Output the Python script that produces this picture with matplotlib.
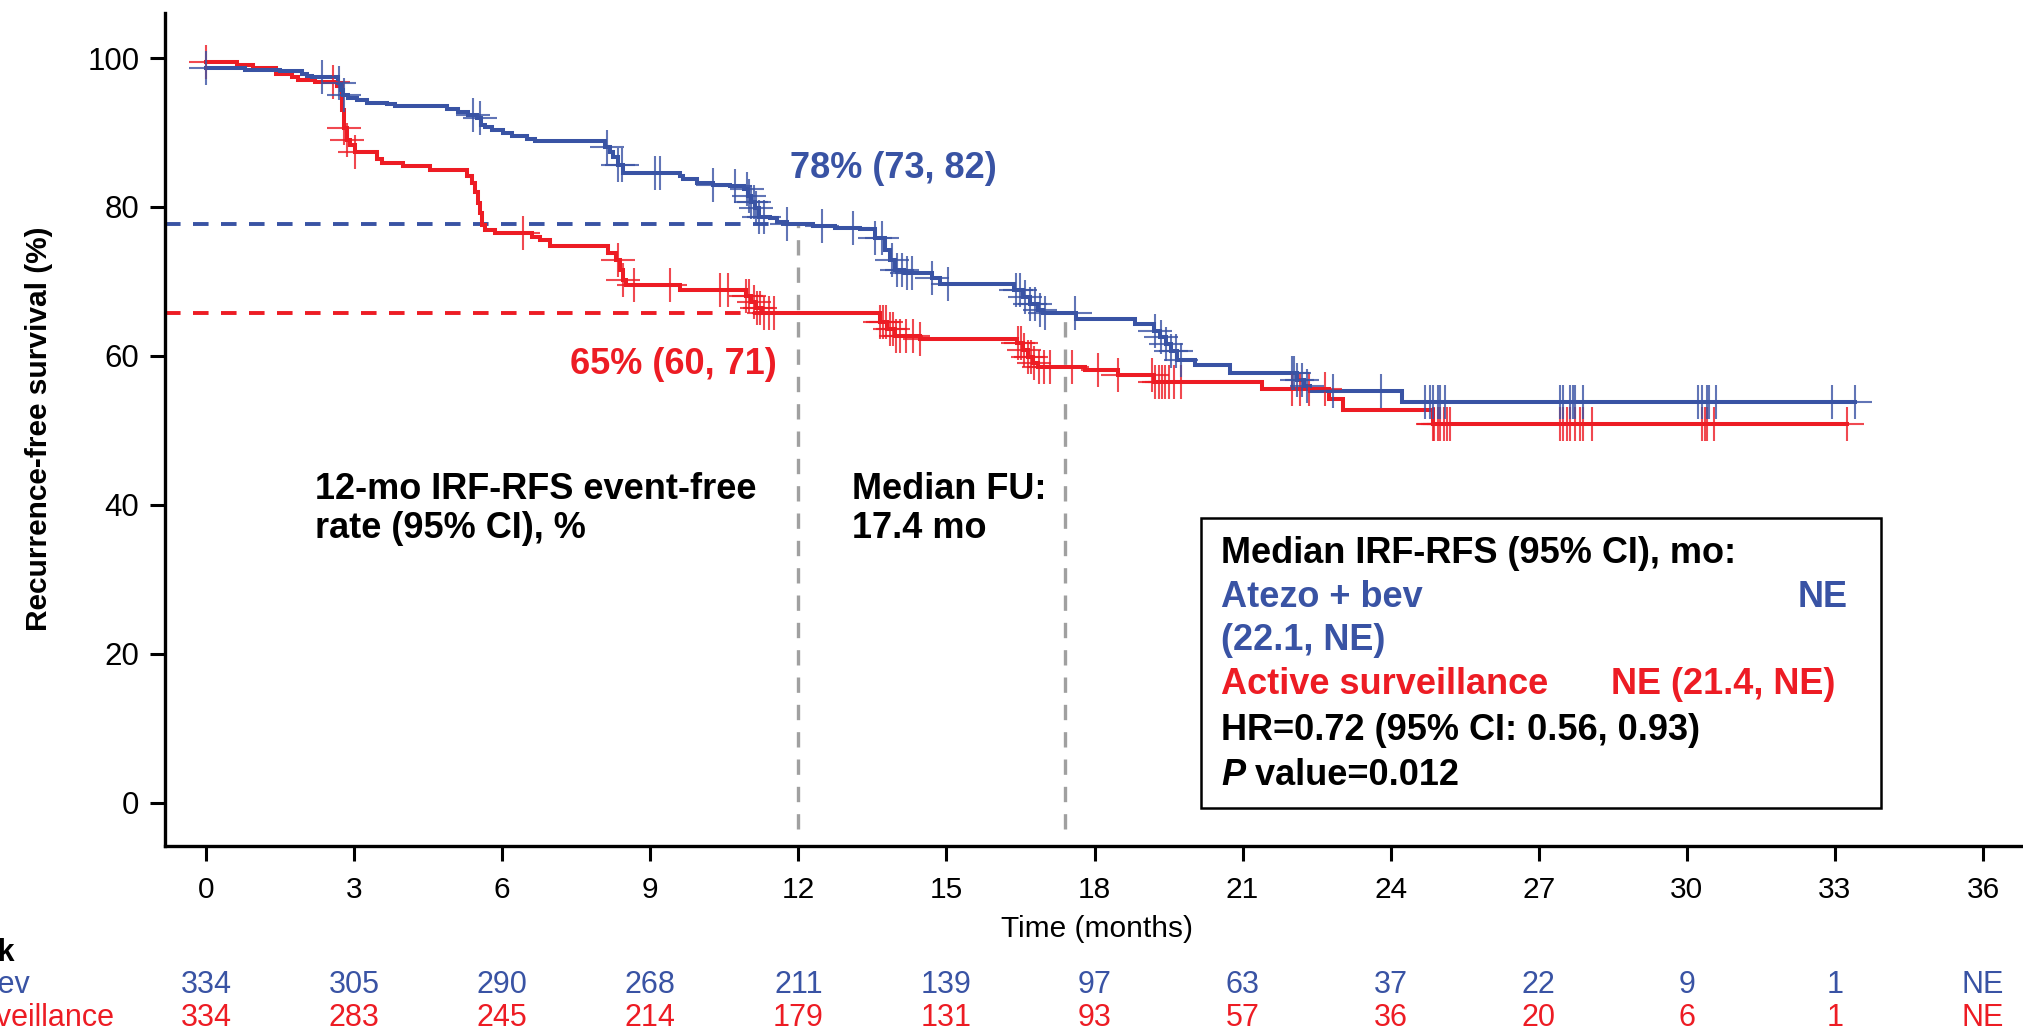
""" IRF-RFS Kaplan-Meier plot: atezo + bev vs active surveillance. """

import numpy as np
import matplotlib.pyplot as plt
from matplotlib.patches import Rectangle
from matplotlib.transforms import blended_transform_factory

plt.rcParams['font.family'] = ['Liberation Sans', 'DejaVu Sans']

BLUE = '#3953A4'
RED = '#ED1C24'
GRAY = '#A0A0A0'

""" Data (read off the curves) """

atezo_t = [0.00, 0.79, 1.50, 1.94, 2.04, 2.14, 2.68, 2.73, 2.78, 2.88, 3.05, 3.26,
           3.66, 3.83, 4.88, 5.11, 5.30, 5.48, 5.58, 5.65, 5.79, 6.02, 6.19, 6.50,
           6.67, 8.08, 8.18, 8.25, 8.35, 8.45, 9.60, 9.67, 9.94, 10.27, 10.62, 10.90,
           10.97, 11.05, 11.12, 11.20, 11.43, 11.56, 11.76, 12.30, 12.74, 13.25, 13.55,
           13.75, 13.85, 13.95, 14.13, 14.70, 14.87, 16.36, 16.55, 16.70, 16.85, 16.96,
           17.63, 18.82, 19.20, 19.33, 19.45, 19.55, 19.67, 20.04, 20.75, 22.10, 22.25,
           22.37, 24.22]
atezo_s = [98.7, 98.4, 98.2, 97.9, 97.6, 97.4, 96.6, 95.7, 95.0, 94.6, 94.3, 94.0,
           93.8, 93.5, 93.2, 92.8, 92.4, 91.9, 91.0, 90.7, 90.4, 90.0, 89.5, 89.1,
           88.8, 88.1, 87.4, 86.7, 85.6, 84.6, 84.1, 83.7, 83.2, 83.0, 82.8, 82.4,
           81.5, 80.6, 79.8, 78.7, 78.5, 78.0, 77.7, 77.4, 77.2, 77.0, 75.8,
           74.2, 72.9, 71.5, 71.1, 70.4, 69.7, 68.8, 67.9, 67.0, 66.2, 65.7,
           65.0, 64.3, 63.3, 62.5, 61.6, 60.7, 59.4, 58.8, 57.7, 56.8, 56.0,
           55.3, 53.8]
atezo_end = 33.41
atezo_cens = [0.0, 2.34, 2.7, 2.8, 5.41, 5.55, 8.12, 8.35, 8.42, 9.1, 9.2, 10.27,
              10.72, 10.95, 11.0, 11.05, 11.1, 11.15, 11.2, 11.3, 11.76, 12.47, 13.11,
              13.55, 13.7, 13.9, 14.0, 14.1, 14.2, 14.3, 14.7, 15.04, 16.4, 16.5, 16.6,
              16.7, 16.8, 16.9, 17.0, 17.6, 19.23, 19.35, 19.45, 19.55, 19.65, 19.75,
              22.0, 22.05, 22.1, 22.2, 22.3, 22.83, 23.8, 24.7, 24.8, 24.85, 24.95,
              25.0, 25.1, 27.43, 27.5, 27.63, 27.7, 27.73, 27.9, 30.23, 30.3, 30.4,
              30.45, 30.6, 32.94, 33.41]

surv_t = [0.00, 0.62, 0.95, 1.42, 1.74, 1.87, 2.21, 2.65, 2.75, 2.80, 2.85, 2.92,
          3.02, 3.46, 3.56, 4.00, 4.54, 5.28, 5.38, 5.45, 5.50, 5.55, 5.60, 5.65,
          5.85, 6.60, 6.77, 6.97, 8.15, 8.30, 8.38, 8.45, 8.51, 9.60, 10.94, 11.05,
          11.15, 11.26, 13.65, 13.80, 13.95, 14.47, 16.42, 16.55, 16.65, 16.75, 16.86,
          17.80, 18.48, 19.20, 21.39, 22.74, 23.04, 24.85]
surv_s = [99.5, 99.1, 98.7, 97.8, 97.4, 97.0, 96.8, 96.3, 93.0, 90.6, 89.0, 88.3,
          87.4, 86.5, 85.9, 85.5, 85.0, 84.1, 83.2, 82.0, 80.5, 79.2, 77.6, 76.9,
          76.5, 76.0, 75.6, 74.7, 73.8, 72.9, 71.5, 70.2, 69.5, 68.9, 68.0, 67.2,
          66.4, 65.7, 64.5, 63.6, 62.6, 62.3, 61.7, 60.8, 59.9, 59.0, 58.5,
          58.1, 57.4, 56.5, 55.6, 54.2, 52.7, 50.9]
surv_end = 33.24
surv_cens = [0.0, 2.57, 2.8, 2.85, 3.02, 6.43, 8.35, 8.45, 8.66, 9.4, 10.41, 10.58,
             10.94, 11.0, 11.1, 11.17, 11.23, 11.3, 11.4, 11.5, 13.65, 13.72, 13.78,
             13.85, 13.92, 13.98, 14.05, 14.18, 14.32, 14.47, 16.45, 16.52, 16.58,
             16.65, 16.72, 16.78, 16.88, 16.98, 17.1, 17.54, 18.08, 18.48, 19.16,
             19.23, 19.3, 19.36, 19.43, 19.5, 19.6, 19.76, 22.0, 22.17, 22.34, 22.66,
             24.85, 24.88, 24.95, 25.0, 25.07, 25.14, 25.2, 27.43, 27.5, 27.57,
             27.63, 27.73, 27.84, 27.9, 28.07, 30.3, 30.37, 30.4, 30.54, 33.24]

risk_times = list(range(0, 37, 3))
risk_atezo = ['334', '305', '290', '268', '211', '139', '97', '63', '37', '22', '9', '1', 'NE']
risk_surv = ['334', '283', '245', '214', '179', '131', '93', '57', '36', '20', '6', '1', 'NE']

landmark_t = 12
median_fu = 17.4

""" Functions """


def km_value(times, surv, x):
    """ Survival value of a step curve at time x. """
    idx = np.searchsorted(times, x, side='right') - 1
    return np.asarray(surv)[idx]


def draw_arm(ax, times, surv, end, cens, color):
    """ Draws one KM curve with its censor marks. """
    xs = list(times) + [end]
    ys = list(surv) + [surv[-1]]
    ax.plot(xs, ys, drawstyle='steps-post', color=color, lw=2.9,
            solid_joinstyle='miter', zorder=4)
    ax.plot(cens, km_value(times, surv, cens), linestyle='none', marker='+',
            ms=25, mew=1.5, color=color, alpha=0.8, zorder=5)


""" Main program """

fig = plt.figure(figsize=(20.23, 10.33), dpi=100)
ax = fig.add_axes([0.0816, 0.1810, 0.9184, 0.8064])
ax.set_xlim(-0.83, 36.81)
ax.set_ylim(-5.84, 106.05)

for s in ['top', 'right']:
    ax.spines[s].set_visible(False)
for s in ['left', 'bottom']:
    ax.spines[s].set_linewidth(2.4)

ax.set_xticks(risk_times)
ax.set_yticks(range(0, 101, 20))
ax.tick_params(axis='both', width=2.2, length=10.5, color='black')
ax.tick_params(axis='y', labelsize=22.5, pad=8)
ax.tick_params(axis='x', labelsize=21.5, pad=11)

# landmark guides
blue12 = km_value(atezo_t, atezo_s, landmark_t)
red12 = km_value(surv_t, surv_s, landmark_t)
ax.plot([-0.83, landmark_t], [blue12, blue12], color=BLUE, lw=2.8,
        dashes=(4.0, 3.2), zorder=2)
ax.plot([-0.83, landmark_t], [red12, red12], color=RED, lw=2.8,
        dashes=(4.0, 3.2), zorder=2)
for xv in [landmark_t, median_fu]:
    ax.plot([xv, xv], [-3.5, km_value(atezo_t, atezo_s, xv)], color=GRAY, lw=2.4,
            dashes=(4.6, 3.6), zorder=2)

draw_arm(ax, surv_t, surv_s, surv_end, surv_cens, RED)
draw_arm(ax, atezo_t, atezo_s, atezo_end, atezo_cens, BLUE)

# annotations
bold = dict(fontsize=26, fontweight='bold', va='center')
ax.text(11.83, 85.1, '78% (73, 82)', color=BLUE, **bold)
ax.text(11.57, 58.8, '65% (60, 71)', color=RED, ha='right', **bold)
ax.text(2.21, 42.0, '12-mo IRF-RFS event-free', color='black', **bold)
ax.text(2.21, 36.8, 'rate (95% CI), %', color='black', **bold)
ax.text(13.09, 42.0, 'Median FU:', color='black', **bold)
ax.text(13.09, 36.8, '17.4 mo', color='black', **bold)

ax.add_patch(Rectangle((20.16, -0.74), 33.93 - 20.16, 38.2 + 0.74, fill=True,
                       facecolor='white', edgecolor='black', lw=1.8,
                       clip_on=False, zorder=6))
bx = 20.56
ax.text(bx, 33.5, 'Median IRF-RFS (95% CI), mo:', color='black', zorder=7, **bold)
ax.text(bx, 27.6, 'Atezo + bev', color=BLUE, zorder=7, **bold)
ax.text(33.25, 27.6, 'NE', color=BLUE, ha='right', zorder=7, **bold)
ax.text(bx, 21.8, '(22.1, NE)', color=BLUE, zorder=7, **bold)
ax.text(bx, 15.8, 'Active surveillance', color=RED, zorder=7, **bold)
ax.text(33.0, 15.8, 'NE (21.4, NE)', color=RED, ha='right', zorder=7, **bold)
ax.text(bx, 9.7, 'HR=0.72 (95% CI: 0.56, 0.93)', color='black', zorder=7, **bold)
p_txt = ax.text(bx, 3.7, 'P', color='black', fontstyle='italic', zorder=7, **bold)
ax.annotate(' value=0.012', xy=(1, 0.5), xycoords=p_txt, color='black',
            fontsize=26, fontweight='bold', va='center', ha='left', zorder=7)

# axis titles
fig.text(1097 / 2023, 1 - 929 / 1033, 'Time (months)', fontsize=21.5,
         ha='center', va='center')
fig.text(39 / 2023, 1 - 429 / 1033, 'Recurrence-free survival (%)', fontsize=21.5,
         fontweight='bold', rotation=90, ha='center', va='center')

# numbers at risk (row titles run off the left edge, as in the source)
trans = blended_transform_factory(ax.transData, fig.transFigure)
row_y = [1 - 985 / 1033, 1 - 1018 / 1033]
fig.text(-133 / 2023, 1 - 953 / 1033, 'No. at risk', fontsize=22,
         fontweight='bold', ha='left', va='center')
fig.text(-132 / 2023, row_y[0], 'Atezo + bev', fontsize=22, color=BLUE,
         ha='left', va='center')
fig.text(-138 / 2023, row_y[1], 'Active surveillance', fontsize=22, color=RED,
         ha='left', va='center')
for t, a, b in zip(risk_times, risk_atezo, risk_surv):
    ax.text(t, row_y[0], a, transform=trans, fontsize=22, color=BLUE,
            ha='center', va='center', clip_on=False)
    ax.text(t, row_y[1], b, transform=trans, fontsize=22, color=RED,
            ha='center', va='center', clip_on=False)

fig.savefig('out.png', dpi=100)
